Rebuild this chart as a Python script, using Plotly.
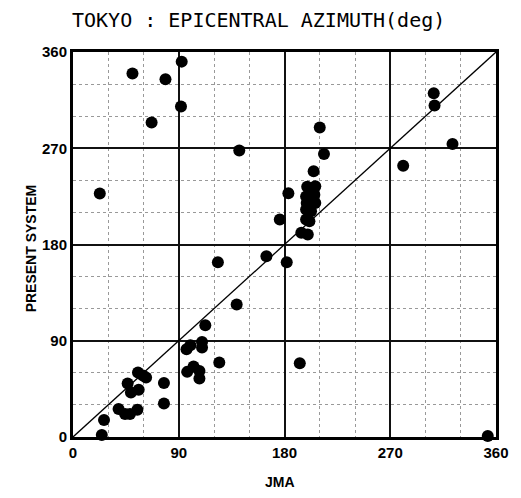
import plotly.graph_objects as go

# Data (degrees)
jma = [92.5, 50.6, 78.7, 91.9, 66.9, 141.5, 22.8, 307.0, 307.7, 323.0,
       281.0, 210.0, 213.6, 204.8, 183.3, 199.3, 206.2, 198.4, 205.4, 198.9,
       206.2, 198.4, 202.6, 198.4, 201.2, 194.3, 199.8, 176.0, 164.6, 123.3,
       139.3, 112.6, 96.6, 99.9, 109.8, 109.8, 124.5, 97.2, 102.6, 107.6,
       107.6, 55.3, 59.5, 62.2, 46.5, 49.3, 55.9, 77.4, 77.4, 38.8,
       44.3, 48.5, 54.8, 26.4, 24.5, 181.9, 193.0, 353.0]
present = [351.0, 340.0, 334.6, 309.0, 294.0, 268.0, 227.6, 321.5, 310.0, 274.0,
           253.7, 289.5, 264.6, 248.4, 228.0, 234.0, 234.5, 225.0, 226.6, 218.9,
           218.9, 212.7, 211.0, 203.4, 201.8, 191.0, 189.4, 203.4, 169.0, 163.5,
           124.0, 104.5, 82.1, 85.8, 88.9, 83.7, 69.7, 60.9, 65.9, 61.8,
           54.8, 60.3, 57.5, 55.7, 50.1, 41.7, 44.1, 50.4, 31.4, 26.1,
           21.5, 21.5, 25.5, 15.9, 1.9, 163.5, 69.0, 1.0]
diag_x = [0, 360]
diag_y = [0, 360]
tick_vals = [0, 90, 180, 270, 360]
tick_text = ["0", "90", "180", "270", "360"]

narrow = "Liberation Sans Narrow, Liberation Sans, Arial, sans-serif"

fig = go.Figure()
fig.add_trace(go.Scatter(x=diag_x, y=diag_y, mode="lines",
                         line=dict(color="black", width=1.3),
                         hoverinfo="skip", showlegend=False))
fig.add_trace(go.Scatter(x=jma, y=present, mode="markers",
                         marker=dict(color="black", size=12, line=dict(width=0)),
                         cliponaxis=False, showlegend=False))

axis_common = dict(
    range=[0, 360], tickmode="array", tickvals=tick_vals, ticktext=tick_text,
    showgrid=True, gridcolor="#111", gridwidth=2,
    minor=dict(dtick=30, tick0=0, showgrid=True, gridcolor="#999",
               griddash="dot", gridwidth=1.2),
    showline=True, linecolor="black", linewidth=3, mirror=True,
    zeroline=False, ticks="",
    tickfont=dict(family=narrow, size=15, color="black", weight="bold"),
    fixedrange=True,
)

fig.update_layout(
    width=521, height=498,
    margin=dict(l=73, r=12, t=52, b=61),
    paper_bgcolor="white", plot_bgcolor="white",
    xaxis=dict(**axis_common),
    yaxis=dict(**axis_common),
    title=dict(text="TOKYO : EPICENTRAL AZIMUTH(deg)",
               font=dict(family="DejaVu Sans Mono, monospace", size=20, color="black"),
               x=72 / 521, xanchor="left", xref="container",
               y=1 - 20 / 498, yanchor="middle", yref="container"),
    annotations=[
        dict(text="JMA", xref="paper", yref="paper", x=0.49, y=0,
             yshift=-45, showarrow=False, xanchor="center", yanchor="middle",
             font=dict(family=narrow, size=14, color="black", weight="bold")),
        dict(text="PRESENT SYSTEM", xref="paper", yref="paper", x=0, y=0.49,
             xshift=-42, textangle=-90, showarrow=False,
             xanchor="center", yanchor="middle",
             font=dict(family=narrow, size=14, color="black", weight="bold")),
    ],
)

fig.write_html("out.html")
